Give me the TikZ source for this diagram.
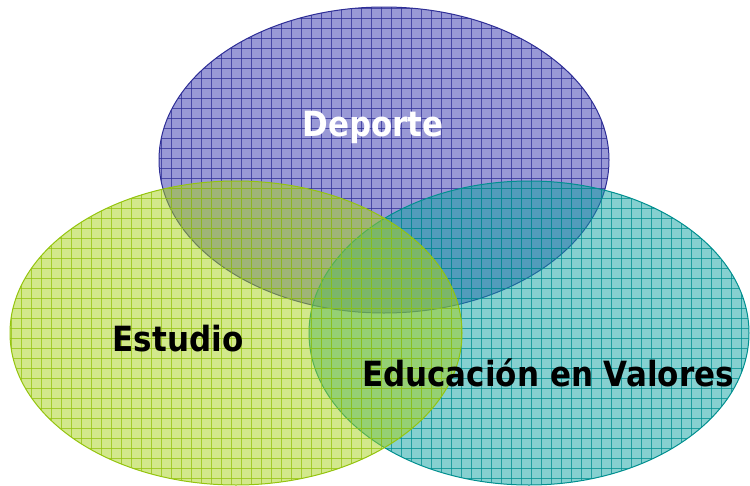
\documentclass[tikz,border=0pt]{standalone}
\usepackage{fontspec}
\setmainfont{DejaVu Sans}
\usepackage{tikz}
\usetikzlibrary{positioning, calc}

\definecolor{deportefill}{HTML}{3333AD}
\definecolor{deporteline}{HTML}{2E2E96}
\definecolor{estudiofill}{HTML}{A5D119}
\definecolor{estudioline}{HTML}{94C40E}
\definecolor{valoresfill}{HTML}{0DA1A1}
\definecolor{valoresline}{HTML}{008F8F}

\tikzset{
    label/.style={font=\bfseries\fontsize{31}{31}\selectfont, anchor=base, inner sep=0pt, yscale=1.12, transform shape},
    grid/.style={line width=0.9pt, draw opacity=0.75},
    border/.style={line width=1pt}
}

\begin{document}
\begin{tikzpicture}[x=1pt, y=-1pt]
            \def\xlines{75}
            \def\ylines{49}
            \def\raster{10}

            \useasboundingbox (0,0) rectangle (750,485);

            \coordinate (D) at (384,160);
            \coordinate (E) at (236,333);
            \coordinate (V) at (529,333);

            % three circles: Deporte, Valores, Estudio
            \foreach \point/\rx/\ry/\col in {D/225/153/deporte,V/220/152/valores,E/226/152/estudio}{
                \begin{scope}
                    \fill[\col fill, fill opacity=0.5]
                        (\point) ellipse [x radius=\rx, y radius=\ry];
                    \clip (\point) ellipse [x radius=\rx, y radius=\ry];

                    % draw vertical lines
                    \foreach \x in {0,...,\xlines}
                    {
                        \draw[grid, \col line] (\x * \raster + 1, 0) -- (\x * \raster + 1, 485);
                    }

                    % draw horizontal lines
                    \foreach \y in {0,...,\ylines}
                    {
                        \draw[grid, \col line] (0, \y * \raster + 8) -- (750, \y * \raster + 8);
                    }
                \end{scope}
                \draw[border, \col line]
                    (\point) ellipse [x radius=\rx, y radius=\ry];
            }

            % labels
            \node[label, white] (deporte) at (373,136) {Deporte};
            \node[label, black] (estudio) at (178,351) {Estudio};
            \node[label, black] (valores) at (548,386) {Educación en Valores};
        \end{tikzpicture}
\end{document}
